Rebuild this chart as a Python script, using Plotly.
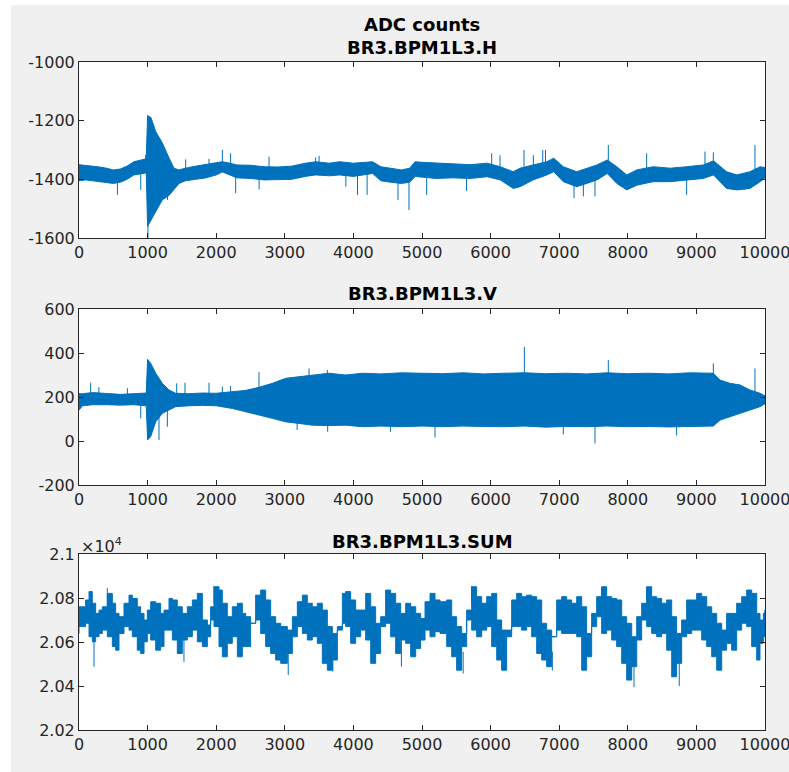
import plotly.graph_objects as go

# ---------------- data ----------------
# BR3.BPM1L3.H : sample positions with upper / lower envelope of the signal
h_x = [0, 100, 200, 300, 400, 500, 600, 700, 800, 900, 980, 1000, 1050, 1118, 1215, 1312, 1385,
       1458, 1550, 1700, 1850, 2000, 2090, 2200, 2300, 2500, 2700, 2900, 3100, 3300, 3450, 3650,
       3800, 4000, 4150, 4280, 4400, 4550, 4700, 4820, 4900, 5000, 5200, 5450, 5700, 5950, 6140,
       6330, 6430, 6620, 6820, 6920, 7060, 7255, 7400, 7550, 7700, 7840, 7985, 8130, 8370, 8615,
       8860, 9100, 9250, 9440, 9590, 9780, 9930, 10000]
h_hi = [-1350, -1352, -1355, -1358, -1362, -1368, -1365, -1355, -1340, -1335, -1330, -1182, -1190,
        -1237, -1276, -1327, -1362, -1368, -1362, -1355, -1350, -1345, -1340, -1345, -1351, -1352,
        -1357, -1358, -1355, -1345, -1340, -1345, -1340, -1345, -1342, -1340, -1357, -1362, -1368,
        -1362, -1340, -1342, -1345, -1347, -1350, -1345, -1357, -1374, -1362, -1351, -1340, -1328,
        -1357, -1374, -1362, -1351, -1334, -1357, -1385, -1368, -1357, -1362, -1357, -1351, -1337,
        -1374, -1385, -1374, -1357, -1360]
h_lo = [-1405, -1402, -1405, -1408, -1410, -1414, -1410, -1400, -1385, -1380, -1378, -1560, -1535,
        -1510, -1470, -1455, -1436, -1414, -1405, -1400, -1395, -1385, -1375, -1385, -1395, -1397,
        -1402, -1402, -1400, -1390, -1385, -1388, -1385, -1390, -1385, -1380, -1405, -1410, -1414,
        -1410, -1390, -1392, -1397, -1395, -1397, -1391, -1402, -1431, -1425, -1402, -1385, -1374,
        -1408, -1425, -1414, -1402, -1380, -1414, -1436, -1420, -1408, -1408, -1402, -1397, -1385,
        -1431, -1436, -1431, -1408, -1395]
h_spike_x = [560, 900, 970, 1005, 1290, 1555, 1895, 2090, 2210, 2284, 2625, 2770, 3450, 3500, 3890,
             4060, 4200, 4650, 4810, 5068, 5650, 6016, 6137, 6487, 6623, 6760, 6800, 7216, 7352,
             7522, 7716, 8275, 8858, 9125, 9247, 9587, 9700, 9854]
h_spike_y = [-1453, -1436, -1317, -1600, -1470, -1332, -1330, -1300, -1311, -1447, -1434, -1323,
             -1325, -1320, -1425, -1453, -1453, -1470, -1505, -1453, -1440, -1311, -1318, -1300,
             -1318, -1300, -1300, -1464, -1458, -1458, -1283, -1311, -1453, -1305, -1308, -1436,
             -1436, -1283]

# BR3.BPM1L3.V
v_x = [0, 50, 200, 400, 600, 800, 980, 1000, 1045, 1118, 1215, 1312, 1409, 1600, 1800, 2000, 2235,
       2430, 2624, 2818, 3013, 3207, 3401, 3644, 3887, 4130, 4400, 4700, 5000, 5300, 5600, 5900,
       6200, 6500, 6800, 7100, 7400, 7700, 8000, 8300, 8600, 8900, 9247, 9344, 9490, 9636, 9781,
       9927, 10000]
v_hi = [215, 215, 220, 215, 212, 215, 218, 371, 353, 308, 262, 232, 217, 215, 218, 217, 224, 230,
        244, 262, 285, 292, 300, 308, 300, 308, 305, 310, 308, 306, 310, 305, 308, 310, 306, 308,
        305, 310, 306, 308, 305, 310, 308, 277, 262, 255, 232, 217, 205]
v_lo = [140, 160, 165, 165, 163, 165, 160, 5, 20, 87, 126, 141, 156, 160, 162, 160, 148, 134, 118,
        103, 87, 80, 72, 70, 72, 65, 68, 65, 68, 65, 68, 66, 65, 68, 63, 66, 65, 68, 65, 66, 64, 66,
        68, 95, 110, 126, 141, 156, 170]
v_spike_x = [170, 290, 705, 900, 1166, 1288, 1424, 1545, 1895, 2090, 2210, 2624, 3180, 3353, 3620,
             3625, 4540, 5190, 6492, 7060, 7522, 7716, 8712, 9247, 9854]
v_spike_y = [265, 245, 240, 103, 5, 65, 262, 265, 265, 247, 250, 314, 50, 330, 323, 42, 42, 16,
             428, 30, -11, 368, 25, 353, 330]

# BR3.BPM1L3.SUM
s_x = [0, 97, 146, 194, 243, 292, 340, 413, 486, 534, 583, 656, 729, 777, 850, 899, 948, 996, 1045,
       1118, 1190, 1239, 1312, 1361, 1433, 1506, 1579, 1652, 1725, 1798, 1871, 1919, 1968, 2041,
       2089, 2162, 2235, 2308, 2381, 2430, 2502, 2575, 2648, 2721, 2794, 2867, 2940, 3037, 3110,
       3183, 3256, 3328, 3401, 3474, 3547, 3620, 3693, 3766, 3839, 3887, 3960, 4033, 4106, 4179,
       4252, 4324, 4397, 4470, 4543, 4616, 4689, 4762, 4835, 4908, 4980, 5044, 5117, 5190, 5263,
       5360, 5433, 5505, 5578, 5651, 5724, 5797, 5870, 5943, 6016, 6089, 6161, 6234, 6307, 6380,
       6453, 6526, 6599, 6672, 6745, 6817, 6890, 6963, 7036, 7109, 7182, 7255, 7328, 7400, 7473,
       7546, 7619, 7692, 7765, 7838, 7911, 7984, 8057, 8130, 8202, 8275, 8348, 8421, 8494, 8567,
       8640, 8712, 8785, 8858, 8931, 9004, 9077, 9150, 9223, 9296, 9369, 9441, 9514, 9587, 9660,
       9733, 9806, 9879, 9927, 9976, 10000]
s_hi = [20760, 20791, 20829, 20776, 20730, 20745, 20760, 20821, 20776, 20730, 20715, 20776, 20813,
        20798, 20760, 20730, 20700, 20745, 20783, 20776, 20730, 20745, 20798, 20791, 20760, 20730,
        20760, 20791, 20821, 20700, 20677, 20760, 20851, 20836, 20776, 20715, 20760, 20776, 20730,
        20715, 20685, 20813, 20836, 20791, 20715, 20685, 20670, 20654, 20715, 20783, 20813, 20776,
        20760, 20776, 20745, 20670, 20639, 20670, 20821, 20829, 20791, 20745, 20745, 20821, 20760,
        20685, 20715, 20836, 20821, 20776, 20730, 20776, 20760, 20730, 20707, 20783, 20821, 20791,
        20783, 20791, 20715, 20670, 20639, 20745, 20851, 20806, 20776, 20806, 20821, 20700, 20654,
        20624, 20791, 20821, 20806, 20813, 20806, 20791, 20685, 20654, 20624, 20791, 20806, 20791,
        20776, 20806, 20760, 20639, 20730, 20806, 20851, 20806, 20798, 20791, 20715, 20685, 20624,
        20715, 20776, 20851, 20806, 20798, 20776, 20791, 20715, 20639, 20700, 20791, 20791, 20821,
        20806, 20760, 20730, 20685, 20654, 20730, 20730, 20776, 20806, 20836, 20821, 20730, 20700,
        20730, 20745]
s_lo = [20639, 20670, 20685, 20624, 20601, 20624, 20639, 20654, 20624, 20579, 20563, 20639, 20670,
        20654, 20624, 20563, 20548, 20601, 20639, 20609, 20563, 20579, 20654, 20654, 20609, 20548,
        20609, 20624, 20654, 20601, 20579, 20624, 20700, 20670, 20579, 20533, 20594, 20624, 20533,
        20579, 20579, 20685, 20700, 20639, 20579, 20548, 20518, 20503, 20548, 20624, 20670, 20639,
        20609, 20624, 20594, 20503, 20472, 20518, 20654, 20685, 20670, 20594, 20624, 20654, 20609,
        20503, 20548, 20670, 20685, 20624, 20548, 20609, 20594, 20533, 20571, 20609, 20654, 20624,
        20647, 20639, 20579, 20533, 20472, 20579, 20700, 20654, 20624, 20654, 20670, 20579, 20518,
        20472, 20654, 20670, 20670, 20654, 20670, 20624, 20548, 20518, 20488, 20624, 20654, 20639,
        20639, 20639, 20624, 20472, 20533, 20670, 20715, 20639, 20654, 20609, 20579, 20503, 20427,
        20488, 20609, 20700, 20670, 20639, 20624, 20639, 20563, 20442, 20503, 20624, 20639, 20654,
        20654, 20609, 20579, 20533, 20472, 20563, 20594, 20563, 20654, 20685, 20670, 20579, 20518,
        20594, 20624]
s_spike_x = [219, 413, 1530, 1968, 3050, 3700, 4700, 5600, 5724, 6900, 7619, 8090, 8275, 8750]
s_spike_y = [20488, 20845, 20510, 20855, 20450, 20465, 20488, 20457, 20855, 20470, 20850, 20395,
             20850, 20400]

x_ticks = [0, 1000, 2000, 3000, 4000, 5000, 6000, 7000, 8000, 9000, 10000]
x_tick_text = ["0", "1000", "2000", "3000", "4000", "5000", "6000", "7000", "8000", "9000", "10000"]
h_ticks = [-1600, -1400, -1200, -1000]
h_tick_text = ["-1600", "-1400", "-1200", "-1000"]
v_ticks = [-200, 0, 200, 400, 600]
v_tick_text = ["-200", "0", "200", "400", "600"]
s_tick_vals = [20200, 20400, 20600, 20800, 21000]
s_tick_text = ["2.02", "2.04", "2.06", "2.08", "2.1"]

titles = ["BR3.BPM1L3.H", "BR3.BPM1L3.V", "BR3.BPM1L3.SUM"]
main_title = "ADC counts"

# ---------------- styling ----------------
BLUE = "#0072BD"
AX = "#262626"
FONT = "DejaVu Sans"
W, H = 789, 772
ML, MR, MT, MB = 79, 24, 62, 42
PW, PH = W - ML - MR, H - MT - MB


def py2paper(py):
    return (H - MB - py) / PH


def px2paper(px):
    return (px - ML) / PW


def band(xs, hi, lo, sx, sy, xa, ya, shape="linear"):
    poly_x = list(xs) + list(xs[::-1])
    poly_y = list(hi) + list(lo[::-1])
    t1 = go.Scatter(x=poly_x, y=poly_y, mode="lines", fill="toself", fillcolor=BLUE,
                    line=dict(color=BLUE, width=1, shape=shape), xaxis=xa, yaxis=ya,
                    hoverinfo="skip")
    lx, ly = [], []
    for s, t in zip(sx, sy):
        i = min(range(len(xs)), key=lambda k: abs(xs[k] - s))
        base = (hi[i] + lo[i]) / 2
        lx += [s, s, None]
        ly += [base, t, None]
    t2 = go.Scatter(x=lx, y=ly, mode="lines", line=dict(color=BLUE, width=1),
                    xaxis=xa, yaxis=ya, hoverinfo="skip")
    return [t1, t2]


fig = go.Figure()
for tr in band(h_x, h_hi, h_lo, h_spike_x, h_spike_y, "x", "y"):
    fig.add_trace(tr)
for tr in band(v_x, v_hi, v_lo, v_spike_x, v_spike_y, "x2", "y2"):
    fig.add_trace(tr)
for tr in band(s_x, s_hi, s_lo, s_spike_x, s_spike_y, "x3", "y3", shape="hv"):
    fig.add_trace(tr)

axis_style = dict(showline=True, linecolor=AX, linewidth=1, mirror="ticks", ticks="inside",
                  ticklen=5, tickwidth=1, tickcolor=AX, showgrid=False, zeroline=False,
                  ticklabeloverflow="allow",
                  tickfont=dict(family=FONT, size=16, color=AX))

# plot-area pixel boxes (top, bottom)
boxes = [(62, 238), (309, 485), (554, 730)]
doms = [[py2paper(b), py2paper(t)] for t, b in boxes]

layout = dict(
    width=W, height=H, margin=dict(l=ML, r=MR, t=MT, b=MB, autoexpand=False),
    paper_bgcolor="#f0f0f0", plot_bgcolor="#ffffff", showlegend=False,
    font=dict(family=FONT, color=AX),
)
for k, (dom, yr, yt, ytt) in enumerate(zip(doms,
                                           [[-1600, -1000], [-200, 600], [20200, 21000]],
                                           [h_ticks, v_ticks, s_tick_vals],
                                           [h_tick_text, v_tick_text, s_tick_text])):
    sfx = "" if k == 0 else str(k + 1)
    layout["xaxis" + sfx] = dict(axis_style, domain=[0, 1], anchor="y" + sfx, range=[0, 10000],
                                 tickvals=x_ticks, ticktext=x_tick_text)
    layout["yaxis" + sfx] = dict(axis_style, domain=dom, anchor="x" + sfx, range=yr,
                                 tickvals=yt, ticktext=ytt)
fig.update_layout(**layout)

# titles
ann = [
    dict(text="<b>" + main_title + "</b>", x=0.5, y=py2paper(25)),
    dict(text="<b>" + titles[0] + "</b>", x=0.5, y=py2paper(47)),
    dict(text="<b>" + titles[1] + "</b>", x=0.5, y=py2paper(293)),
    dict(text="<b>" + titles[2] + "</b>", x=0.5, y=py2paper(541)),
]
for a in ann:
    fig.add_annotation(xref="paper", yref="paper", xanchor="center", yanchor="middle",
                       showarrow=False, font=dict(family=FONT, size=18, color="#000000"), **a)
fig.add_annotation(text="×10<sup>4</sup>", xref="paper", yref="paper", x=px2paper(79),
                   y=py2paper(545), xanchor="left", yanchor="middle", showarrow=False,
                   font=dict(family=FONT, size=16, color=AX))

# white border strips outside the grey figure area
fig.add_shape(type="rect", xref="paper", yref="paper", x0=px2paper(0), x1=px2paper(11),
              y0=py2paper(H), y1=py2paper(0), fillcolor="#ffffff", line=dict(width=0), layer="above")
fig.add_shape(type="rect", xref="paper", yref="paper", x0=px2paper(0), x1=px2paper(W),
              y0=py2paper(5), y1=py2paper(0), fillcolor="#ffffff", line=dict(width=0), layer="above")

fig.write_html("out.html", config={"displayModeBar": False},
               post_script="document.body.style.margin='0';")
